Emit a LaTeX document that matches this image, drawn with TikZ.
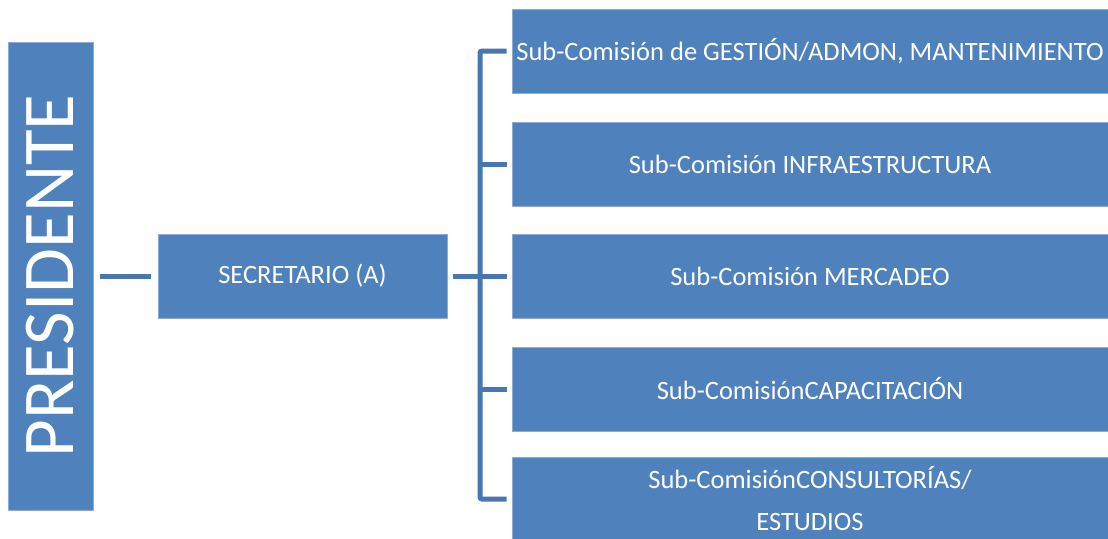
\documentclass[tikz,border=0pt]{standalone}
\usepackage{fontspec}
\setmainfont{Carlito}
\usepackage{xcolor}
\definecolor{orgblue}{RGB}{79, 129, 189}
\definecolor{orgedge}{RGB}{140, 172, 212}
\definecolor{orgline}{RGB}{72, 118, 176}
\usetikzlibrary{positioning,calc}

\begin{document}
\begin{tikzpicture}[x=1pt, y=-1pt]
    \tikzstyle{unit} = [rectangle, draw=orgedge, line width=0.8pt, fill=orgblue,
                        text=white, inner sep=0pt, align=center]
    \tikzstyle{sub} = [unit, minimum width=596pt, minimum height=84pt,
                       font=\fontsize{26.5}{30}\selectfont]
    \tikzstyle{link} = [draw=orgline, line width=5pt]

    \useasboundingbox (0,0) rectangle (1108,538);

    % President and secretary
    \node[unit, minimum width=468pt, minimum height=85pt, font=\fontsize{73}{73}\selectfont,
          rotate=90] (pres) at (50.5,276) {PRESIDENTE};
    \node[unit, minimum width=289pt, minimum height=84pt, font=\fontsize{26.5}{30}\selectfont]
          (sec) at (302.5,276) {SECRETARIO (A)};

    % Sub-commissions
    \node[sub] (s1) at (810,51) {Sub-Comisión de GESTIÓN/ADMON, MANTENIMIENTO};
    \node[sub] (s2) at (810,164) {Sub-Comisión INFRAESTRUCTURA};
    \node[sub] (s3) at (810,276) {Sub-Comisión MERCADEO};
    \node[sub] (s4) at (810,389) {Sub-ComisiónCAPACITACIÓN};
    \node[sub, font=\fontsize{26.5}{42}\selectfont] (s5) at (810,499) {Sub-ComisiónCONSULTORÍAS/\\ESTUDIOS};

    % Bracket
    \coordinate (bus) at (480,276);

    % Connectors
    \draw[link] ([xshift=7pt]pres.south) -- ([xshift=-7pt]sec.west);
    \draw[link] ([xshift=6pt]sec.east) -- (bus);
    \draw[link, rounded corners=2pt] ([xshift=-5pt]s1.west) -| (bus |- s5.west) -- ([xshift=-5pt]s5.west);
    \draw[link] (bus |- s2.west) -- ([xshift=-5pt]s2.west);
    \draw[link] (bus |- s3.west) -- ([xshift=-5pt]s3.west);
    \draw[link] (bus |- s4.west) -- ([xshift=-5pt]s4.west);
\end{tikzpicture}
\end{document}
